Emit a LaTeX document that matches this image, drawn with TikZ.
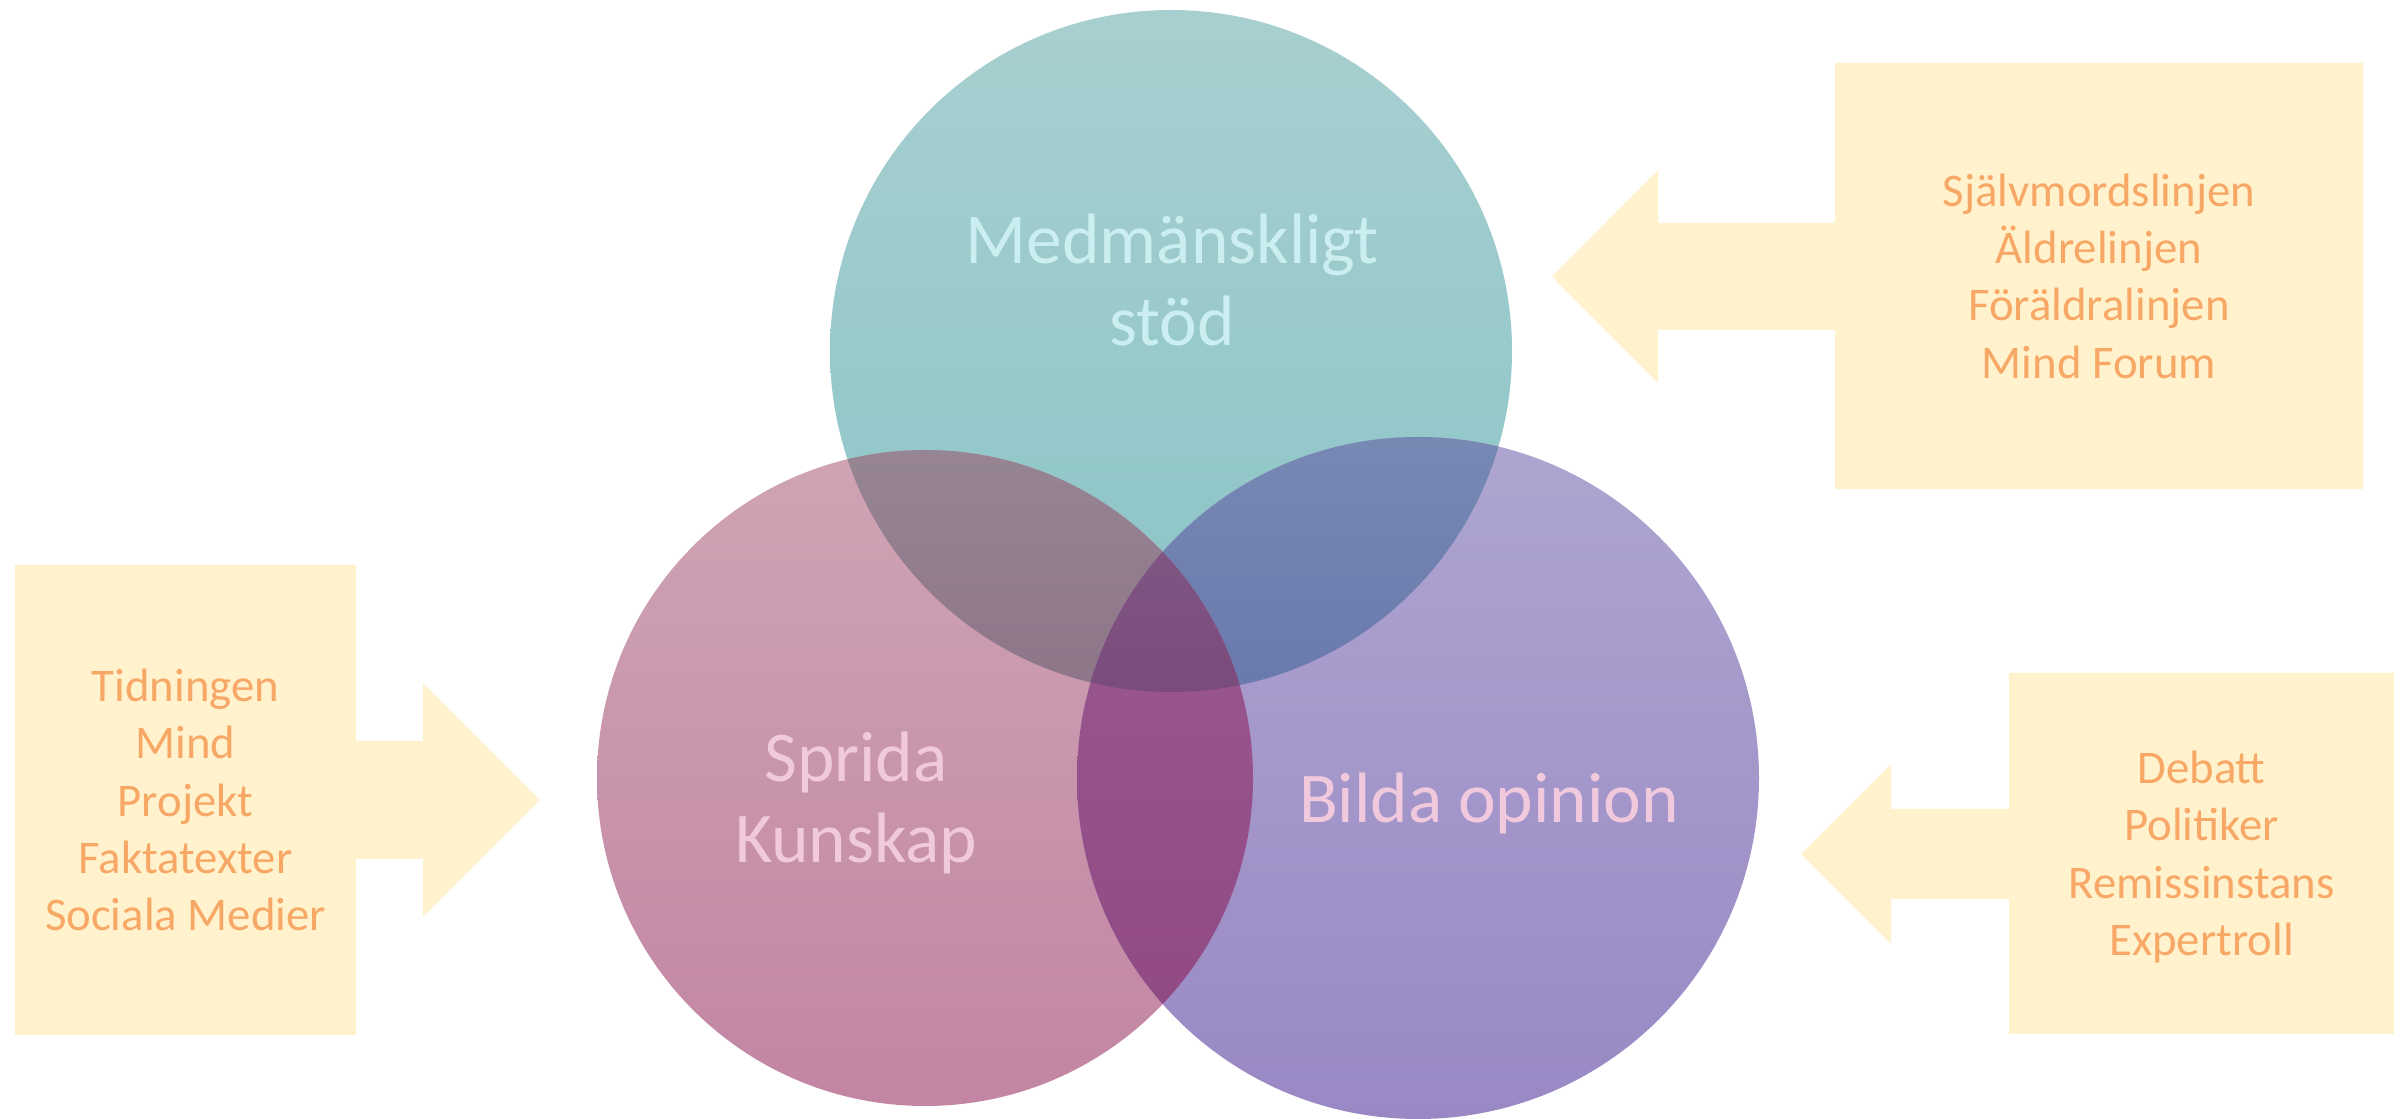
\documentclass[tikz,border=0pt]{standalone}
\usepackage{fontspec}
\setmainfont{Carlito}
\definecolor{boxfill}{HTML}{FFF2CC}
\definecolor{sidetext}{HTML}{F8A866}
\definecolor{tealtext}{HTML}{CBEFF0}
\definecolor{pinktext}{HTML}{F1C9DD}
\definecolor{tealtop}{HTML}{A8CFD0}
\definecolor{tealbot}{HTML}{89C4C6}
\definecolor{pinktop}{HTML}{CFA4B4}
\definecolor{pinkbot}{HTML}{C285A3}
\definecolor{purptop}{HTML}{AEA5D0}
\definecolor{purpbot}{HTML}{9988C4}
\definecolor{tltop}{HTML}{968593}
\definecolor{tlbot}{HTML}{8E7589}
\definecolor{trtop}{HTML}{7689B3}
\definecolor{trbot}{HTML}{6A79AD}
\definecolor{lrtop}{HTML}{9B5890}
\definecolor{lrbot}{HTML}{914A84}
\definecolor{alltop}{HTML}{805582}
\definecolor{allbot}{HTML}{7A4B7C}
\begin{document}
\begin{tikzpicture}[x=0.01cm,y=-0.01cm,
  sidelabel/.style={align=center, text=sidetext, font=\fontsize{13.3}{16.3}\selectfont, inner sep=0pt},
  vennlabel/.style={align=center, font=\fontsize{20.3}{23.3}\selectfont, inner sep=0pt},
  callout/.style={fill=boxfill}]
\useasboundingbox (0,0) rectangle (2402,1119);
\coordinate (cT) at (1171,351);
\coordinate (cL) at (925,778);
\coordinate (cR) at (1418,778);

% single circles
\shade[top color=tealtop, bottom color=tealbot] (cT) circle[radius=341];
\shade[top color=pinktop, bottom color=pinkbot] (cL) circle[radius=328];
\shade[top color=purptop, bottom color=purpbot] (cR) circle[radius=341];

% overlaps
\begin{scope}
  \clip (cT) circle[radius=341];
  \clip (cL) circle[radius=328];
  \shade[top color=tltop, bottom color=tlbot] (500,447) rectangle (1400,692);
\end{scope}
\begin{scope}
  \clip (cT) circle[radius=341];
  \clip (cR) circle[radius=341];
  \shade[top color=trtop, bottom color=trbot] (1000,437) rectangle (1800,692);
\end{scope}
\begin{scope}
  \clip (cL) circle[radius=328];
  \clip (cR) circle[radius=341];
  \shade[top color=lrtop, bottom color=lrbot] (1000,552) rectangle (1300,1004);
\end{scope}
\begin{scope}
  \clip (cT) circle[radius=341];
  \clip (cL) circle[radius=328];
  \clip (cR) circle[radius=341];
  \shade[top color=alltop, bottom color=allbot] (1000,552) rectangle (1300,692);
\end{scope}

% circle labels
\node[vennlabel, text=tealtext] (lT) at (1172,280) {Medmänskligt\\stöd};
\node[vennlabel, text=pinktext] (lL) at (856,803) {Sprida\\Kunskap};
\node[vennlabel, text=pinktext] (lR) at (1489,803) {Bilda opinion};

% callouts
\fill[callout] (2363,63) -- (2363,489) -- (1835,489) -- (1835,330) -- (1658,330)
  -- (1658,383) -- (1552,276.5) -- (1658,170) -- (1658,223) -- (1835,223) -- (1835,63) -- cycle;
\fill[callout] (15,565) -- (356,565) -- (356,741) -- (423,741) -- (423,683) -- (540,800)
  -- (423,917) -- (423,859) -- (356,859) -- (356,1035) -- (15,1035) -- cycle;
\fill[callout] (2394,673) -- (2394,1034) -- (2009,1034) -- (2009,899) -- (1891,899)
  -- (1891,944) -- (1801,854) -- (1891,764) -- (1891,809) -- (2009,809) -- (2009,673) -- cycle;

\node[sidelabel] (tR) at (2099,276) {Självmordslinjen\\Äldrelinjen\\Föräldralinjen\\Mind Forum};
\node[sidelabel] (tL) at (185.5,800) {Tidningen\\Mind\\Projekt\\Faktatexter\\Sociala Medier};
\node[sidelabel] (tB) at (2201.5,857) {Debatt\\Politiker\\Remissinstans\\Expertroll};
\end{tikzpicture}
\end{document}
